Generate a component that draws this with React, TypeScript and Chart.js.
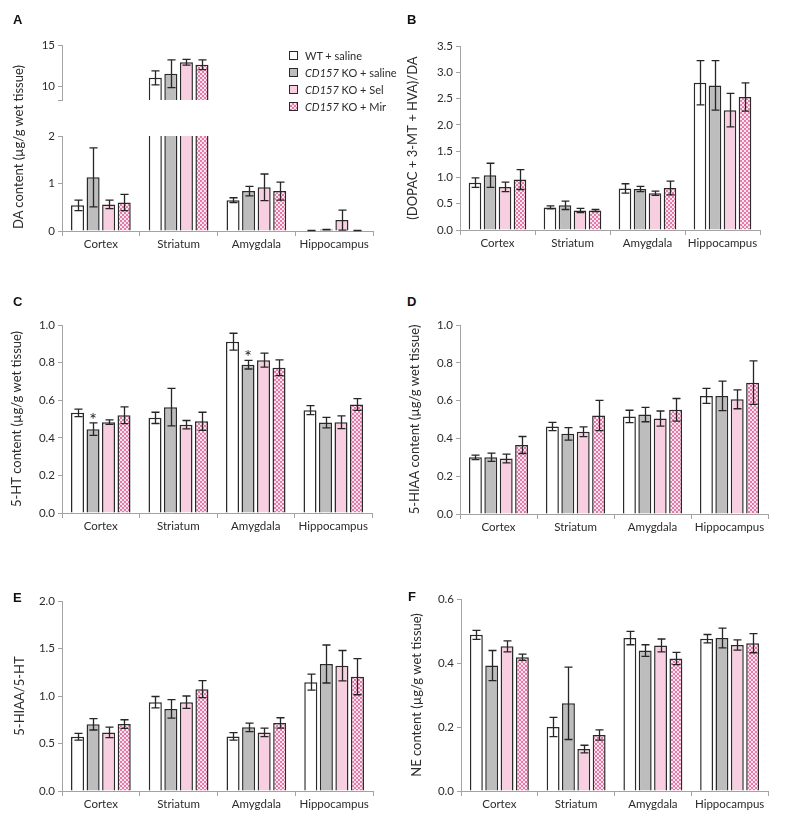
import React, { useEffect, useRef } from 'react';
import { Chart, registerables } from 'chart.js';

Chart.register(...registerables);

// ---------------- data ----------------
const REGIONS = ['Cortex', 'Striatum', 'Amygdala', 'Hippocampus'];
const GROUP_PREFIX = ['', 'CD157', 'CD157', 'CD157'];
const GROUP_SUFFIX = ['WT + saline', ' KO + saline', ' KO + Sel', ' KO + Mir'];

// A: DA content (µg/g wet tissue); rows = groups, cols = regions
const daMean = [
  [0.54, 11.0, 0.65, 0.01],
  [1.13, 11.5, 0.84, 0.03],
  [0.56, 12.9, 0.92, 0.23],
  [0.6, 12.6, 0.84, 0.01],
];
const daErr = [
  [0.11, 0.85, 0.05, 0.003],
  [0.62, 1.7, 0.1, 0.005],
  [0.09, 0.35, 0.28, 0.21],
  [0.17, 0.6, 0.19, 0.003],
];
const daUpperTicks = [8.3, 10, 15];

// B: (DOPAC + 3-MT + HVA)/DA
const turnoverDaMean = [
  [0.9, 0.43, 0.79, 2.8],
  [1.04, 0.47, 0.78, 2.75],
  [0.82, 0.37, 0.7, 2.28],
  [0.96, 0.37, 0.8, 2.53],
];
const turnoverDaErr = [
  [0.09, 0.03, 0.09, 0.42],
  [0.23, 0.08, 0.05, 0.47],
  [0.09, 0.04, 0.04, 0.32],
  [0.19, 0.02, 0.13, 0.27],
];

// C: 5-HT content
const htMean = [
  [0.533, 0.506, 0.911, 0.547],
  [0.446, 0.563, 0.789, 0.481],
  [0.483, 0.47, 0.813, 0.483],
  [0.52, 0.488, 0.773, 0.577],
];
const htErr = [
  [0.02, 0.03, 0.045, 0.024],
  [0.033, 0.1, 0.023, 0.028],
  [0.012, 0.022, 0.037, 0.034],
  [0.045, 0.048, 0.042, 0.031],
];
const htStars = [
  [false, false, false, false],
  [true, false, true, false],
  [false, false, false, false],
  [false, false, false, false],
];

// D: 5-HIAA content
const hiaaMean = [
  [0.3, 0.463, 0.516, 0.625],
  [0.3, 0.424, 0.526, 0.625],
  [0.294, 0.435, 0.505, 0.607],
  [0.365, 0.521, 0.551, 0.695],
];
const hiaaErr = [
  [0.012, 0.022, 0.033, 0.04],
  [0.022, 0.033, 0.038, 0.078],
  [0.023, 0.026, 0.04, 0.05],
  [0.045, 0.08, 0.06, 0.115],
];

// E: 5-HIAA/5-HT
const turnover5htMean = [
  [0.571, 0.935, 0.575, 1.146],
  [0.702, 0.864, 0.67, 1.337],
  [0.617, 0.935, 0.617, 1.319],
  [0.705, 1.072, 0.716, 1.203],
];
const turnover5htErr = [
  [0.035, 0.06, 0.04, 0.085],
  [0.06, 0.097, 0.045, 0.2],
  [0.055, 0.065, 0.045, 0.16],
  [0.045, 0.09, 0.055, 0.19],
];

// F: NE content
const neMean = [
  [0.488, 0.2, 0.478, 0.476],
  [0.392, 0.274, 0.439, 0.478],
  [0.452, 0.131, 0.455, 0.456],
  [0.418, 0.175, 0.414, 0.462],
];
const neErr = [
  [0.014, 0.03, 0.021, 0.013],
  [0.047, 0.113, 0.018, 0.031],
  [0.017, 0.012, 0.02, 0.016],
  [0.01, 0.016, 0.019, 0.03],
];

// ---------------- styles ----------------
const FONT = 'Lato, "Open Sans", "DejaVu Sans", sans-serif';
const AXIS = '#a3a3a3';
const TXT = '#2b2b2b';
const EDGE = '#2a2a2a';
const WHITE = '#ffffff';
const GREY = '#bdbdbd';
const PINK = '#f8cfe1';
const HATCH_DARK = '#e57aaa';
const HATCH_LIGHT = '#fde4ef';
const TICK_SIZE = 11.5;
const YW = 60;
const XH = 28;
const PT = 10;
const PR = 14;

function makePattern(): CanvasPattern | string {
  const c = document.createElement('canvas');
  c.width = 4;
  c.height = 4;
  const g = c.getContext('2d');
  if (!g) return PINK;
  g.fillStyle = HATCH_LIGHT;
  g.fillRect(0, 0, 4, 4);
  g.fillStyle = HATCH_DARK;
  g.fillRect(0, 0, 2, 2);
  g.fillRect(2, 2, 2, 2);
  const p = g.createPattern(c, 'repeat');
  return p || PINK;
}

const errorBarPlugin = {
  id: 'errorBars',
  afterDatasetsDraw(chart: any) {
    const { ctx, chartArea } = chart;
    const yScale = chart.scales.y;
    ctx.save();
    ctx.beginPath();
    ctx.rect(chartArea.left - 2, chartArea.top, chartArea.width + 4, chartArea.height + 1);
    ctx.clip();
    chart.data.datasets.forEach((ds: any, di: number) => {
      if (!ds.errors) return;
      const meta = chart.getDatasetMeta(di);
      meta.data.forEach((bar: any, i: number) => {
        const v = ds.data[i];
        const e = ds.errors[i];
        if (v + e <= yScale.min || v - e >= yScale.max) return;
        const x = Math.round(bar.x) + 0.5;
        const yHi = yScale.getPixelForValue(v + e);
        const yLo = yScale.getPixelForValue(v - e);
        const cap = bar.width * 0.31;
        ctx.strokeStyle = '#262626';
        ctx.lineWidth = 1.3;
        ctx.beginPath();
        ctx.moveTo(x, yHi);
        ctx.lineTo(x, yLo);
        ctx.moveTo(x - cap, yHi);
        ctx.lineTo(x + cap, yHi);
        if (v - e > yScale.min) {
          ctx.moveTo(x - cap, yLo);
          ctx.lineTo(x + cap, yLo);
        }
        ctx.stroke();
      });
    });
    ctx.restore();
    // significance stars
    ctx.save();
    ctx.fillStyle = '#222';
    ctx.font = `18px ${FONT}`;
    ctx.textAlign = 'center';
    ctx.textBaseline = 'alphabetic';
    chart.data.datasets.forEach((ds: any, di: number) => {
      if (!ds.stars) return;
      const meta = chart.getDatasetMeta(di);
      meta.data.forEach((bar: any, i: number) => {
        if (!ds.stars[i]) return;
        const top = yScale.getPixelForValue(ds.data[i] + ds.errors[i]);
        ctx.fillText('*', bar.x, top + 3);
      });
    });
    ctx.restore();
  },
};

type Spec = {
  l: number;
  r: number;
  t: number;
  b: number;
  mean: number[][];
  err: number[][];
  stars?: boolean[][];
  min: number;
  max: number;
  step: number;
  decimals: number;
  title?: string;
  titlePad?: number;
  showX?: boolean;
  fixedTicks?: number[];
  blankTicks?: number[];
};

function BarPanel({ spec }: { spec: Spec }) {
  const ref = useRef<HTMLCanvasElement>(null);
  const showX = spec.showX !== false;
  const w = spec.r - spec.l + YW + PR;
  const h = spec.b - spec.t + PT + (showX ? XH : 0);
  const left = spec.l - YW;
  const top = spec.t - PT;

  useEffect(() => {
    const canvas = ref.current;
    if (!canvas) return;
    const fills: any[] = [WHITE, GREY, PINK, makePattern()];
    const chart = new Chart(canvas, {
      type: 'bar',
      data: {
        labels: REGIONS,
        datasets: spec.mean.map((m, gi) => ({
          label: GROUP_PREFIX[gi] + GROUP_SUFFIX[gi],
          data: m,
          errors: spec.err[gi],
          stars: spec.stars ? spec.stars[gi] : undefined,
          backgroundColor: fills[gi],
          borderColor: EDGE,
          borderWidth: 1.5,
          categoryPercentage: 0.8,
          barPercentage: 0.84,
          clip: 0,
        })) as any,
      },
      options: {
        responsive: false,
        animation: false,
        devicePixelRatio: 1,
        events: [],
        layout: { padding: { top: PT, right: PR, left: 0, bottom: 0 } },
        plugins: { legend: { display: false }, tooltip: { enabled: false } },
        scales: {
          x: {
            display: showX,
            grid: {
              offset: true,
              drawOnChartArea: false,
              drawTicks: true,
              tickLength: 5,
              color: AXIS,
            },
            border: { color: AXIS, width: 1 },
            ticks: {
              color: TXT,
              font: { family: FONT, size: TICK_SIZE },
              padding: 1,
              maxRotation: 0,
              autoSkip: false,
            },
            afterFit: (s: any) => {
              s.height = XH;
            },
          },
          y: {
            min: spec.min,
            max: spec.max,
            grid: { drawOnChartArea: false, drawTicks: true, tickLength: 4, color: AXIS },
            border: { color: AXIS, width: 1 },
            ticks: {
              stepSize: spec.step,
              color: TXT,
              font: { family: FONT, size: TICK_SIZE },
              padding: 3,
              callback: (v: any) =>
                spec.blankTicks && spec.blankTicks.includes(Number(v))
                  ? ''
                  : Number(v).toFixed(spec.decimals),
            },
            title: {
              display: !!spec.title,
              text: spec.title || '',
              color: TXT,
              font: { family: FONT, size: 13 },
              padding: { top: spec.titlePad || 0, bottom: 0 },
            },
            afterBuildTicks: (s: any) => {
              if (spec.fixedTicks) s.ticks = spec.fixedTicks.map((v) => ({ value: v }));
            },
            afterFit: (s: any) => {
              s.width = YW;
            },
          },
        },
      },
      plugins: [errorBarPlugin],
    } as any);
    return () => chart.destroy();
  }, []);

  return (
    <canvas
      ref={ref}
      width={w}
      height={h}
      style={{ position: 'absolute', left, top, width: w, height: h }}
    />
  );
}

const panelLetter = (text: string, x: number, capTop: number) => (
  <div
    key={text}
    style={{
      position: 'absolute',
      left: x,
      top: capTop - 2,
      font: 'bold 13px "Liberation Sans", Arial, sans-serif',
      lineHeight: '13px',
      color: '#111',
    }}
  >
    {text}
  </div>
);

const legendFills = [
  { background: WHITE },
  { background: GREY },
  { background: PINK },
  {
    background: `conic-gradient(${HATCH_DARK} 25%, ${HATCH_LIGHT} 0 50%, ${HATCH_DARK} 0 75%, ${HATCH_LIGHT} 0)`,
    backgroundSize: '4px 4px',
  },
];

export default function App() {
  const specs: Spec[] = [
    {
      l: 62, r: 373, t: 45, b: 128,
      mean: daMean, err: daErr, min: 8.3, max: 15, step: 5, decimals: 0,
      showX: false, fixedTicks: daUpperTicks, blankTicks: [8.3],
    },
    {
      l: 62, r: 373, t: 136, b: 231,
      mean: daMean, err: daErr, min: 0, max: 2, step: 1, decimals: 0,
    },
    {
      l: 460, r: 760, t: 46, b: 230,
      mean: turnoverDaMean, err: turnoverDaErr, min: 0, max: 3.5, step: 0.5, decimals: 1,
      title: '(DOPAC + 3-MT + HVA)/DA', titlePad: 5,
    },
    {
      l: 62, r: 372, t: 325, b: 513,
      mean: htMean, err: htErr, stars: htStars, min: 0, max: 1, step: 0.2, decimals: 1,
      title: '5-HT content (µg/g wet tissue)', titlePad: 7,
    },
    {
      l: 460, r: 768, t: 325, b: 514,
      mean: hiaaMean, err: hiaaErr, min: 0, max: 1, step: 0.2, decimals: 1,
      title: '5-HIAA content (µg/g wet tissue)', titlePad: 7,
    },
    {
      l: 62, r: 373, t: 601, b: 791,
      mean: turnover5htMean, err: turnover5htErr, min: 0, max: 2, step: 0.5, decimals: 1,
      title: '5-HIAA/5-HT', titlePad: 10,
    },
    {
      l: 461, r: 768, t: 599, b: 791,
      mean: neMean, err: neErr, min: 0, max: 0.6, step: 0.2, decimals: 1,
      title: 'NE content (µg/g wet tissue)', titlePad: 8,
    },
  ];

  return (
    <div
      style={{
        position: 'absolute',
        left: 0,
        top: 0,
        width: 786,
        height: 815,
        overflow: 'hidden',
        background: '#fff',
      }}
    >
      {specs.map((s, i) => (
        <BarPanel key={i} spec={s} />
      ))}
      {/* Panel A axis title spans the broken axis */}
      <div
        style={{
          position: 'absolute',
          left: 18,
          top: 147,
          transform: 'translate(-50%, -50%) rotate(-90deg)',
          whiteSpace: 'nowrap',
          font: `13px ${FONT}`,
          color: TXT,
        }}
      >
        DA content (µg/g wet tissue)
      </div>
      {/* legend */}
      <div style={{ position: 'absolute', left: 289, top: 47, font: `11px ${FONT}`, color: TXT }}>
        {GROUP_SUFFIX.map((suf, i) => (
          <div key={i} style={{ display: 'flex', alignItems: 'center', height: 17, whiteSpace: 'nowrap' }}>
            <div
              style={{
                width: 7,
                height: 7,
                border: `1px solid ${EDGE}`,
                marginRight: 7,
                flex: 'none',
                ...legendFills[i],
              }}
            />
            <span>
              {GROUP_PREFIX[i] ? <i>{GROUP_PREFIX[i]}</i> : null}
              {suf}
            </span>
          </div>
        ))}
      </div>
      {panelLetter('A', 13, 15)}
      {panelLetter('B', 407, 15)}
      {panelLetter('C', 13, 297)}
      {panelLetter('D', 407, 297)}
      {panelLetter('E', 13, 593)}
      {panelLetter('F', 408, 592)}
    </div>
  );
}
